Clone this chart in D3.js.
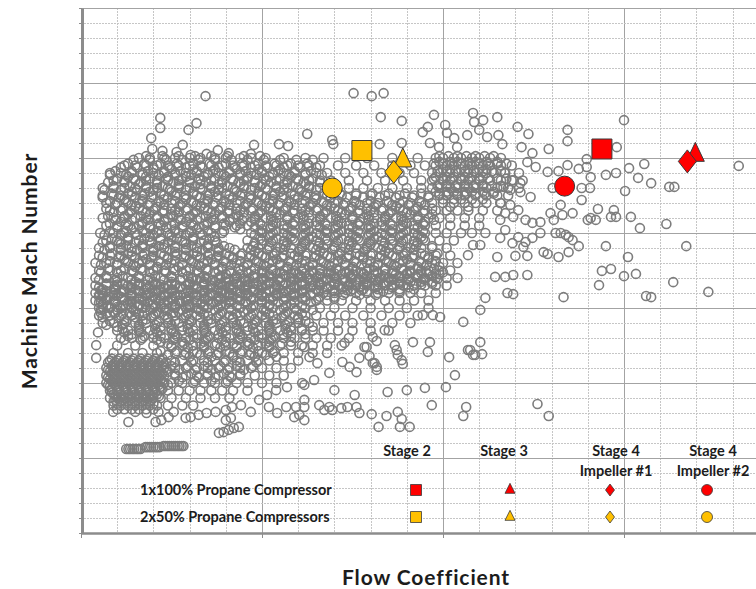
<!DOCTYPE html>
<html>
<head>
<meta charset="utf-8">
<script src="https://cdn.jsdelivr.net/npm/d3@7"></script>
<style>
  html, body { margin: 0; padding: 0; background: #fff; }
  svg { display: block; font-family: Lato, "Open Sans", sans-serif; }
</style>
</head>
<body>
<svg id="chart" width="756" height="589"></svg>
<script>
// Compressor database: flow coefficients are listed in thousandths (52 -> 0.052).
// Each row: [Machine Mach number, flow coefficients of the impellers around that Mach number]
const cloudRows = [
  [1.20,[16,19,23,26,30,33,37,40,44,47,51,56,62,67,73,79,86,93,98,100,103,105,108,110,113,116]],
  [1.19,[99,102,104,107,109,112,115]],
  [1.18,[12,15,18,21,24,27,30,33,36,39,42,45,48,51,54,57,60,63,66,71,76,81,86,91,95,98,101,103,106,108,111,113,116,119]],
  [1.17,[20,25,31,37,43,49,55,100,102,105,107,110,112]],
  [1.16,[8,11,14,17,20,23,26,29,32,35,38,41,44,47,50,53,56,59,62,65,68,73,78,83,88,92,97,99,102,104,107,109,112,114,117,121]],
  [1.15,[13,18,24,29,34,40,46,52,58,98,101,103,106,108,111]],
  [1.14,[9,12,15,18,21,24,27,30,33,36,39,42,45,48,51,54,57,60,63,66,69,74,79,84,89,94,97,100,102,105,107,110,113,116,119,122]],
  [1.13,[16,21,27,33,38,44,50,56,62,99,101,104,106,109,111]],
  [1.12,[6,9,12,15,18,21,24,27,30,33,36,39,42,45,48,51,54,57,60,63,66,70,74,78,82,86,90,94,97,99,102,104,107,109,112,115,118,121]],
  [1.11,[14,19,25,31,37,43,49,55,61,98,101,103,106,108,111,114]],
  [1.10,[6,9,11,14,17,20,23,26,29,32,35,38,41,44,47,50,53,56,59,62,65,68,72,76,80,84,88,92,96,99,101,104,106,109,112,115,118]],
  [1.09,[12,17,23,29,35,41,47,53,59,65,100,103,105,108,111]],
  [1.08,[7,10,13,16,19,22,25,28,31,34,37,40,43,46,49,52,55,58,61,64,67,70,73,76,79,82,85,88,91,94,97,100,103,106,109,112,116]],
  [1.07,[15,21,27,33,39,45,51,57,63,69,75,81,87,93,102,107]],
  [1.06,[8,11,14,17,20,23,26,29,32,35,38,41,44,47,50,53,56,59,62,65,68,71,74,77,80,83,86,89,92,95,98,101,104,107,111,115]],
  [1.05,[13,19,25,31,37,43,49,55,61,67,73,79,85,91,97]],
  [1.04,[6,9,12,15,18,21,24,27,30,33,36,39,42,45,48,51,54,57,60,63,66,69,72,75,78,81,84,87,90,93,96,99,102,106,110]],
  [1.03,[11,17,23,29,35,41,47,53,59,65,71,77,83,89,95]],
  [1.02,[7,10,13,16,19,22,25,28,31,34,37,40,43,46,50,53,56,59,62,65,68,71,74,77,80,83,86,89,92,95,98,102,106,110]],
  [1.01,[14,20,26,32,44,50,56,62,68,74,80,86,92]],
  [1.00,[9,12,15,18,21,24,27,30,33,36,39,47,50,53,56,59,62,65,68,71,74,77,80,83,86,89,92,95,98,101,105,108]],
  [0.99,[13,19,25,31,37,52,58,64,70,76,82,88,94]],
  [0.98,[7,10,13,16,19,22,25,28,31,34,37,46,50,53,56,59,62,65,68,71,74,77,80,83,86,89,92,95,99,103]],
  [0.97,[11,17,23,29,35,50,56,62,68,74,80,86,92]],
  [0.96,[5,8,11,14,17,20,23,26,29,32,35,38,41,46,49,52,55,58,61,64,67,70,73,76,79,82,85,88,91,94,97,101]],
  [0.95,[14,20,26,32,38,48,54,60,66,72,78,84,90]],
  [0.94,[5,8,11,14,17,20,23,26,29,32,35,38,41,44,47,50,53,56,59,62,65,68,71,74,77,80,83,86,89,92,95,98,102]],
  [0.93,[12,18,24,30,36,42,48,54,60,66,72,78,84,90,96]],
  [0.92,[4,7,10,13,16,19,22,25,28,31,34,37,40,43,46,49,52,55,58,61,64,67,70,73,76,79,82,85,88,91,94,97,100,104]],
  [0.91,[15,21,27,33,39,45,51,57,63,69,75,81,87,93,99]],
  [0.90,[5,8,11,14,17,20,23,26,29,32,35,38,41,44,47,50,53,56,59,61,64,66,69,71,74,76,79,81,84,86,89,91,94,96,99,102]],
  [0.89,[40,44,48,52,56,60,63,66,69,72,75,78,81,84,87,90,93,96,99]],
  [0.88,[4,7,10,13,16,19,22,25,28,31,33,35,38,40,43,45,48,50,53,55,58,60,63,65,68,70,73,75,78,80,83,85,88,90,93,95,98,101,104]],
  [0.87,[10,15,20,25,30,34,37,40,43,46,49,52,55,58,61,64,67,70,73,76,79,82,85,88,91,94,97]],
  [0.86,[4,7,10,13,16,19,21,24,26,29,31,34,36,39,41,44,46,49,51,54,56,59,61,64,66,69,71,74,76,79,81,84,86,89,92,95,98,101]],
  [0.85,[6,9,12,15,18,22,25,28,32,35,38,42,45,48,52,55,58,62,65,68,72,75,78,82,85,88,92]],
  [0.84,[4,6,9,11,14,16,19,21,24,26,29,31,34,36,39,41,44,46,49,51,54,56,59,61,64,67,70,73,76,79,82,85,88,91,94,98]],
  [0.83,[5,8,11,14,17,20,23,26,29,32,35,38,41,44,47,50,53,56,59,62,66,70]],
  [0.82,[4,7,9,12,14,17,19,22,24,27,29,32,35,38,41,44,47,50,53,56,59,62,65,68,72,76,80,84,88,92,96]],
  [0.81,[6,10,13,16,20,23,26,30,33,36,40,46,52,58]],
  [0.80,[5,8,11,14,17,20,23,26,29,32,35,38,41,44,47,50,53,56,59,62,66,70,75,80,85,90,96]],
  [0.79,[9,15,21,27,33,39,45,51,57]],
  [0.78,[5,8,11,14,17,20,23,26,29,32,35,38,41,44,47,50,53,56,59,62,65,69,73,78,83,88,93]],
  [0.77,[12,18,24,30,36,42,48,54,60]],
  [0.76,[6,9,12,15,18,21,24,27,30,33,36,39,42,45,48,51,54,57,60,63,67,71,75,80,86,91]],
  [0.75,[10,16,22,28,34,40,46,52,58,64]],
  [0.74,[10,13,16,19,22,25,28,31,34,37,40,43,46,49,52,55,58,61,64,67,71,75,80,85]],
  [0.73,[14,20,26,32,38,44,50,56,62]],
  [0.72,[11,14,17,20,23,26,29,32,35,38,41,44,47,50,53,56,59,62,65,69,74]],
  [0.71,[22,28,34,40,46,52,58]],
  [0.70,[10,15,20,25,28,31,34,37,40,43,46,49,52,55,58,61,64,68,72]],
  [0.68,[9,13,17,21,26,29,32,35,38,41,44,47,50,53,56,60,64,68]],
  [0.67,[30,36,42,48,54]],
  [0.66,[8,10,12,14,16,18,20,22,25,28,31,34,37,40,43,46,49,52,56,60]],
  [0.65,[9,11,13,15,17,19,21,23]],
  [0.64,[7,9,11,13,15,17,19,21,23,26,29,32,35,38,41,44,47,50,54,58]],
  [0.63,[8,10,12,14,16,18,20,22,24]],
  [0.62,[7,9,11,13,15,17,19,21,23,26,29,32,35,38,41,44,48,52,56]],
  [0.61,[8,10,12,14,16,18,20,22]],
  [0.60,[7,9,11,13,15,17,19,21,23,25,28,31,34,37,40,43,46,50,54]],
  [0.59,[8,10,12,14,16,18,20,22]],
  [0.58,[8,10,12,14,16,18,20,22,24,27,30,33,36,39,42,46]],
  [0.57,[9,11,13,15,17,19,21]],
  [0.56,[8,10,12,14,16,18,20,22,25,29,33,37,41]],
  [0.55,[9,11,13,15,17,19]],
  [0.54,[9,11,13,15,17,19,21,24,28,31]],
  [0.53,[10,12,14,16,18,20]]
];

// Further impellers in the crowded parts of the map, between the rows above
const cloudRowsBetween = [
  [1.205,[18,22.5,27,31.5,36,40.5,45,49.5,99,101.5,104,106.5,109,111.5,114]],
  [1.195,[14.5,19,23.5,28,32.5,37,41.5,46,50.5,55,59.5,64]],
  [1.185,[13,17.5,22,26.5,31,35.5,40,44.5,49,53.5,58,62.5,97.5,100,102.5,105,107.5,110,112.5,115,117.5]],
  [1.175,[11,15.5,20,24.5,29,33.5,38,42.5,47,51.5,56,60.5,65]],
  [1.165,[9.5,14,18.5,23,27.5,32,36.5,41,45.5,50,54.5,59,63.5,98.5,101,103.5,106,108.5,111,113.5,116]],
  [1.155,[8,12.5,17,21.5,26,30.5,35,39.5,44,48.5,53,57.5,62,66.5]],
  [1.145,[10,14.5,19,23.5,28,32.5,37,41.5,46,50.5,55,59.5,64,97.5,100,102.5,105,107.5,110,112.5,115,117.5]],
  [1.135,[7.5,12,16.5,21,25.5,30,34.5,39,43.5,48,52.5,57,61.5,66]],
  [1.125,[9,13.5,18,22.5,27,31.5,36,40.5,45,49.5,54,58.5,63,98.5,101,103.5,106,108.5,111,113.5,116]],
  [1.115,[6.5,11,15.5,20,24.5,29,33.5,38,42.5,47,51.5,56,60.5,65]],
  [1.105,[8.5,13,17.5,22,26.5,31,35.5,40,44.5,49,53.5,58,62.5,67,71.5,76,80.5,85,89.5,94,99,101.5,104,106.5,109,111.5,114]],
  [1.095,[6,10.5,15,19.5,24,28.5,33,37.5,42,46.5,51,55.5,60,64.5,69,73.5,78,82.5,87,91.5,96]],
  [1.085,[8,12.5,17,21.5,26,30.5,35,39.5,44,48.5,53,57.5,62,66.5,71,75.5,80,84.5,89,93.5]],
  [1.075,[9.5,14,18.5,23,27.5,32,36.5,41,45.5,50,54.5,59,63.5,68,72.5,77,81.5,86,90.5,95]],
  [1.065,[7,11.5,16,20.5,25,29.5,34,38.5,43,47.5,52,56.5,61,65.5,70,74.5,79,83.5,88,92.5,97]],
  [1.055,[9,13.5,18,22.5,27,31.5,36,40.5,45,49.5,54,58.5,63,67.5,72,76.5,81,85.5,90,94.5]],
  [1.045,[7.5,12,16.5,21,25.5,30,34.5,39,43.5,48,52.5,57,61.5,66,70.5,75,79.5,84,88.5,93]],
  [1.035,[9.5,14,18.5,23,27.5,32,36.5,41,44.5,48,52.5,57,61.5,66,70.5,75,79.5,84,88.5,93,97.5]],
  [1.025,[8,12.5,17,21.5,26,30.5,35,39.5,44,49.5,54,58.5,63,67.5,72,76.5,81,85.5,90,94.5]],
  [1.015,[10,14.5,19,23.5,28,32.5,37,42.5,48,52.5,57,61.5,66,70.5,75,79.5,84,88.5,93]],
  [1.005,[8,12.5,17,21.5,26,30.5,35,39.5,49.5,54,58.5,63,67.5,72,76.5,81,85.5,90,94.5]],
  [0.995,[6.5,11,15.5,20,24.5,29,33.5,48,52.5,57,61.5,66,70.5,75,79.5,84,88.5,93]],
  [0.985,[8.5,13,17.5,22,26.5,31,35.5,49.5,54,58.5,63,67.5,72,76.5,81,85.5,90,94.5]],
  [0.975,[6,10.5,15,19.5,24,28.5,33,37.5,48,52.5,57,61.5,66,70.5,75,79.5,84,88.5,93]],
  [0.965,[8,12.5,17,21.5,26,30.5,35,39.5,47.5,52,56.5,61,65.5,70,74.5,79,83.5,88,92.5,97]],
  [0.955,[6.5,11,15.5,20,24.5,29,33.5,38,42.5,47,51.5,56,60.5,65,69.5,74,78.5,83,87.5,92]],
  [0.945,[8.5,13,17.5,22,26.5,31,35.5,40,44.5,49,53.5,58,62.5,67,71.5,76,80.5,85,89.5,94,98.5]],
  [0.935,[6,10.5,15,19.5,24,28.5,33,37.5,42,46.5,51,55.5,60,64.5,69,73.5,78,82.5,87,91.5,96]],
  [0.925,[8,12.5,17,21.5,26,30.5,35,39.5,44,48.5,53,57.5,62,66.5,71,75.5,80,84.5,89,93.5,98]],
  [0.915,[5.5,10,14.5,19,23.5,28,32.5,37,41.5,46,50.5,55,59.5,64,68.5,73,77.5,82,86.5,91,95.5]],
  [0.905,[7.5,12,16.5,21,25.5,30,34.5,39,43.5,48,52.5,57,61.5,66,70.5,75,79.5,84,88.5,93,97.5]],
  [0.8925,[50,54,58,62,66,70,74,78,82,86,90,94,98]],
  [0.895,[5.5,10,14.5,19,23.5,28,32.5,37,41.5,46,50.5,55,59.5,64,68.5,73,77.5,82,86.5,91,95.5,100]],
  [0.885,[7,11.5,16,20.5,25,29.5,34,38.5,43,47.5,52,56.5,61,65.5,70,74.5,79,83.5,88,92.5,97]],
  [0.8775,[30.5,34.5,38.5,42.5,46.5,50.5,54.5,58.5,62.5,66.5,70.5,74.5,78.5,82.5,86.5,90.5,94.5,98.5]],
  [0.875,[5,9.5,14,18.5,23,27.5,32,36.5,41,45.5,50,54.5,59,63.5,68,72.5,77,81.5,86,90.5,95]],
  [0.865,[7,11.5,16,20.5,25,29.5,34,38.5,43,47.5,52,56.5,61,65.5,70,74.5,79,83.5,88,92.5,97]],
  [0.8625,[10,14,18,22,26,30,34,38,42,46,50,54,58,62,66,70,74,78,82,86,90,94]],
  [0.855,[5,9.5,14,18.5,23,27.5,32,36.5,41,45.5,50,54.5,59,63.5,68,72.5,77,81.5,86,90.5]],
  [0.8475,[5.5,9.5,13.5,17.5,21.5,25.5,29.5,33.5,37.5,41.5,45.5,49.5,53.5,57.5,61.5,65.5,69.5,73.5,77.5]],
  [0.845,[7,11.5,16,20.5,25,29.5,34,38.5,43,47.5,52,56.5,61,65.5,70,74.5,79,83.5,88]],
  [0.835,[5,9.5,14,18.5,23,27.5,32,36.5,41,45.5,50,54.5,59,63.5,68,72.5,77,81.5]],
  [0.8325,[6,10,14,18,22,26,30,34,38,42,46,50,54,58]],
  [0.825,[7,11.5,16,20.5,25,29.5,34,38.5,43,47.5,52,56.5,61,65.5,70]],
  [0.8175,[5.5,9.5,13.5,17.5,21.5,25.5,29.5,33.5,37.5,41.5,45.5]],
  [0.815,[5,9.5,14,18.5,23,27.5,32,36.5,41,45.5,50,54.5,59,63.5]],
  [0.805,[7,11.5,16,20.5,25,29.5,34,38.5,43,47.5,52,56.5,61]],
  [0.8025,[6,10,14,18,22,26,30,34]],
  [0.795,[5.5,10,14.5,19,23.5,28,32.5,37,41.5,46,50.5,55,59.5,64]],
  [0.7875,[5.5,9.5,13.5,17.5,21.5,25.5,29.5]],
  [0.785,[7,11.5,16,20.5,25,29.5,34,38.5,43,47.5,52,56.5,61]],
  [0.775,[6,10.5,15,19.5,24,28.5,33,37.5,42,46.5,51,55.5,60]],
  [0.765,[8,12.5,17,21.5,26,30.5,35,39.5,44,48.5,53,57.5,62]],
  [0.755,[7,11.5,16,20.5,25,29.5,34,38.5,43,47.5,52,56.5]],
  [0.745,[11.5,16,20.5,25,29.5,34,38.5,43,47.5,52,56.5,61]],
  [0.735,[12,16.5,21,25.5,30,34.5,39,43.5,48,52.5,57]],
  [0.725,[13,17.5,22,26.5,31,35.5,40,44.5,49,53.5,58]],
  [0.715,[12,16.5,21,25.5,30,34.5,39,43.5,48,52.5]],
  [0.705,[24,28.5,33,37.5,42,46.5,51,55.5]],
  [0.695,[25,29.5,34,38.5,43,47.5,52]],
  [0.685,[22,26.5,31,35.5,40,44.5,49,53.5]],
  [0.675,[24,28.5,33,37.5,42,46.5,51]],
  [0.665,[8.5,10.5,12.5,14.5,16.5,18.5,20.5,22.5]],
  [0.655,[7.5,9.5,11.5,13.5,15.5,17.5,19.5,21.5,23.5,26,30.5,35,39.5,44,48.5]],
  [0.645,[8.5,10.5,12.5,14.5,16.5,18.5,20.5,22.5,25,29.5,34,38.5,43,47.5]],
  [0.635,[7.5,9.5,11.5,13.5,15.5,17.5,19.5,21.5,23.5,27,31.5,36,40.5,45]],
  [0.625,[8.5,10.5,12.5,14.5,16.5,18.5,20.5,22.5,26,30.5,35,39.5,44]],
  [0.615,[7.5,9.5,11.5,13.5,15.5,17.5,19.5,21.5,28,32.5,37,41.5]],
  [0.605,[8.5,10.5,12.5,14.5,16.5,18.5,20.5,22.5,27,31.5,36,40.5]],
  [0.595,[7.5,9.5,11.5,13.5,15.5,17.5,19.5,21.5,24]],
  [0.585,[8.5,10.5,12.5,14.5,16.5,18.5,20.5,22.5]],
  [0.575,[8.5,10.5,12.5,14.5,16.5,18.5,20.5]],
  [0.565,[9.5,11.5,13.5,15.5,17.5,19.5,21.5]],
  [0.555,[9.5,11.5,13.5,15.5,17.5,19.5]],
  [0.545,[10,12,14,16,18,20]]
];

// Tightly packed impeller families near the bottom of the range
const chainRows = [
  [0.424,[12.5,13.1,13.6,14.2,14.7,15.3,15.8,16.4]],
  [0.429,[17.8,18.3,18.9,19.4,20,20.6,21.1,21.7]],
  [0.432,[22.8,23.3,23.9,24.4,25,25.6,26.1,26.7,27.2,27.8,28.3]]
];

// Individual impellers: [flow coefficient x1000, Machine Mach number]
const cloudPoints = [
  [34.4,1.365],[75.3,1.373],[80.3,1.365],[83.6,1.373],[21.9,1.307],[21.9,1.28],[31.9,1.293],[29.7,1.275],
  [19.4,1.253],[19.7,1.224],[22.5,1.219],[28.1,1.235],[26.4,1.216],[30.3,1.208],[34.7,1.211],[37.8,1.221],
  [40.8,1.213],[47.8,1.235],[46.9,1.211],[54.7,1.237],[57.2,1.232],[62.5,1.264],[69.4,1.248],[69.7,1.237],
  [82.8,1.309],[88.6,1.299],[82.5,1.237],[88.6,1.24],[94.4,1.269],[95.8,1.283],[97.5,1.315],[100.6,1.288],
  [96.4,1.24],[98.9,1.229],[101.1,1.267],[103.1,1.253],[103.9,1.229],[106.7,1.261],[108.3,1.32],[108.6,1.296],
  [110,1.275],[111.1,1.301],[112.2,1.256],[115,1.309],[115.3,1.261],[116.4,1.237],[120.6,1.283],[123.6,1.264],
  [121.7,1.229],[129.2,1.224],[134.4,1.275],[134.4,1.245],[148,1.229],[150,1.301],[124.7,1.213],[123.3,1.189],
  [125.6,1.176],[128.9,1.163],[131.9,1.165],[134.4,1.181],[137.5,1.171],[139.7,1.176],[139.7,1.197],[140.8,1.149],
  [145,1.155],[147.8,1.16],[151.4,1.173],[155.6,1.184],[153.9,1.147],[157.5,1.133],[162.5,1.123],[163.9,1.123],
  [150.3,1.112],[181.7,1.179],[117.2,1.16],[119.4,1.141],[121.4,1.133],[116.7,1.123],[118.6,1.115],[121.4,1.109],
  [124.2,1.096],[130.3,1.12],[138.3,1.12],[140.6,1.12],[138.3,1.088],[142.8,1.064],[140.8,1.04],[142.2,1.035],
  [140,1.035],[147.2,1.061],[146.4,1.043],[147.8,1.043],[151.9,1.043],[154.4,1.013],[161.7,1.024],[167.2,0.965],
  [145,0.965],[151.1,0.936],[143.9,0.899],[146.4,0.904],[150,0.885],[153.3,0.891],[143.1,0.861],[163.6,0.869],
  [173.3,0.843],[156.1,0.832],[157.5,0.829],[133.3,0.829],[115.8,1.08],[118.6,1.075],[120.8,1.061],[117.2,1.053],
  [119.4,1.043],[122.8,1.035],[115.8,1.035],[124.7,1.027],[126.9,1.029],[129.7,1.053],[132.5,1.075],[133,1.048],
  [135.8,1.053],[130.6,1.035],[131.1,1.0],[132.5,1.0],[133.9,0.995],[134.7,0.989],[135.8,0.981],[137.5,0.965],
  [120.8,0.989],[122.8,0.976],[124.7,0.987],[117.2,1.008],[115.8,0.987],[119.2,0.973],[122.2,0.963],[127.8,0.949],
  [128.9,0.944],[131.9,0.936],[134.7,0.949],[120,0.939],[123.3,0.939],[117.2,0.883],[119.4,0.888],[123.3,0.888],
  [117.8,0.84],[119.4,0.837],[111.7,1.0],[108.3,0.968],[110.3,0.968],[106.9,0.941],[115,0.936],[126.9,1.0],
  [114.4,0.883],[111.7,0.827],[110.3,0.795],[105.6,0.763],[110.3,0.709],[108.3,0.675],[110.8,0.677],[106.9,0.688],
  [103.3,0.621],[100.8,0.589],[95,0.587],[90,0.581],[84.7,0.576],[95.8,0.683],[96.4,0.709],[91.7,0.709],
  [99.2,0.776],[94.4,0.781],[97.2,0.781],[83.9,0.741],[107.5,0.688],[108.9,0.675],[101.7,0.669],[96.9,0.541],
  [106.4,0.536],[105.6,0.512],[126.1,0.544],[129.2,0.512],[86.7,0.701],[87.2,0.688],[87.5,0.675],[88.6,0.661],
  [88.9,0.651],[80.6,0.723],[81.7,0.712],[78.3,0.696],[76.9,0.667],[79.7,0.672],[80.6,0.653],[81.7,0.643],
  [74.2,0.643],[76.1,0.629],[72.2,0.656],[72.8,0.707],[73.6,0.536],[71.9,0.533],[76.9,0.52],[80.3,0.517],
  [84.4,0.512],[87.5,0.523],[88.6,0.504],[88.1,0.483],[90.8,0.483],[82.2,0.483],[61.7,0.696],[63.1,0.669],
  [65.3,0.653],[68.6,0.627],[78.9,0.696],[81.1,0.653],[81.7,0.635],[61.1,0.6],[64.4,0.608],[70,0.581],
  [75.6,0.568],[61.7,0.555],[65.8,0.541],[4.7,0.735],[4.2,0.701],[4.2,0.667],[5.3,1.0],
  [8.9,0.523],[13.1,0.496],[15,0.523],[18.1,0.52],[21.4,0.523],[20.6,0.496],[22.2,0.501],[24.2,0.509],
  [25.6,0.523],[28.9,0.507],[30.3,0.509],[32.5,0.515],[34.7,0.52],[37.2,0.523],[40,0.528],[41.7,0.536],
  [44.2,0.541],[46.9,0.523],[49.2,0.555],[51.4,0.568],[53.9,0.581],[56.9,0.589],[61.7,0.595],[51.9,0.536],
  [54.2,0.52],[56.7,0.536],[59.4,0.536],[58.9,0.509],[60.3,0.515],[61.7,0.501],[61.7,0.536],[67.2,0.528],
  [68.6,0.536],[69.4,0.528],[76.1,0.536],[38.1,0.467],[39.4,0.469],[40.8,0.475],[42.2,0.48],[43.6,0.483],
  [40,0.501],[41.4,0.507]
];

// Propane compressor stages
const stageNames = [["Stage 2"], ["Stage 3"], ["Stage 4", "Impeller #1"], ["Stage 4", "Impeller #2"]];
const stageShapes = ["square", "triangle", "diamond", "circle"];
const configNames = ["1x100% Propane Compressor", "2x50% Propane Compressors"];
const configColors = ["#ff0000", "#ffc000"];
const flow1x100 = [0.1439, 0.1697, 0.1675, 0.1336];
const mach1x100 = [1.224, 1.208, 1.191, 1.125];
const flow2x50 = [0.0776, 0.0889, 0.0864, 0.0694];
const mach2x50 = [1.220, 1.193, 1.163, 1.120];

const svg = d3.select("#chart");
const x = d3.scaleLinear().domain([0, 0.2]).range([81, 805]);
const y = d3.scaleLinear().domain([0.2, 1.6]).range([533, 8]);

// Gridlines: minor every 0.01 flow / 0.04 Mach, major every fifth line
const flowGrid = d3.range(0, 21).map(i => +(i * 0.01).toFixed(2));
const machGrid = d3.range(0, 36).map(i => +(0.2 + i * 0.04).toFixed(2));

const grid = svg.append("g");
grid.selectAll("line.v").data(flowGrid).join("line")
  .attr("x1", d => Math.round(x(d)) + 0.5).attr("x2", d => Math.round(x(d)) + 0.5)
  .attr("y1", y(1.6)).attr("y2", y(0.2))
  .attr("stroke", (d, i) => i % 5 === 0 ? "#a3a3a3" : "#c6c6c6")
  .attr("stroke-dasharray", (d, i) => i % 5 === 0 ? null : "2,1");
grid.selectAll("line.h").data(machGrid).join("line")
  .attr("y1", d => Math.round(y(d)) + 0.5).attr("y2", d => Math.round(y(d)) + 0.5)
  .attr("x1", x(0)).attr("x2", x(0.2))
  .attr("stroke", (d, i) => i % 5 === 0 ? "#a3a3a3" : "#c6c6c6")
  .attr("stroke-dasharray", (d, i) => i % 5 === 0 ? null : "2,1");

// Build the impeller table
const impellers = [];
cloudRows.concat(cloudRowsBetween, chainRows)
  .forEach(([m, flows]) => flows.forEach(f => impellers.push([f / 1000, m])));
cloudPoints.forEach(([f, m]) => impellers.push([f / 1000, m]));

svg.append("g").selectAll("circle").data(impellers).join("circle")
  .attr("cx", d => x(d[0])).attr("cy", d => y(d[1]))
  .attr("r", 4.5)
  .attr("fill", "none")
  .attr("stroke", "#7d7d7d")
  .attr("stroke-width", 1.6);

// Axes
const gy = svg.append("g").attr("transform", "translate(82,0)")
  .call(d3.axisLeft(y).tickValues(machGrid).tickSize(3).tickSizeOuter(0).tickFormat(""));
gy.select(".domain").attr("stroke", "#8c8c8c").attr("stroke-width", 3);
gy.selectAll(".tick line").attr("stroke", "#8c8c8c");

const gx = svg.append("g").attr("transform", "translate(0,533)")
  .call(d3.axisBottom(x).tickValues(flowGrid.filter((d, i) => i % 5 === 0)).tickSize(5).tickSizeOuter(0).tickFormat(""));
gx.select(".domain").attr("stroke", "#8c8c8c").attr("stroke-width", 2.5);
gx.selectAll(".tick line").attr("stroke", "#8c8c8c");

// Marker shapes
function shapePath(shape, w, h) {
  if (shape === "square") return `M${-w / 2},${-h / 2}h${w}v${h}h${-w}Z`;
  if (shape === "triangle") return `M0,${-2 * h / 3}L${w / 2},${h / 3}L${-w / 2},${h / 3}Z`;
  if (shape === "diamond") return `M0,${-h / 2}L${w / 2},0L0,${h / 2}L${-w / 2},0Z`;
  const r = w / 2;
  return `M${r},0A${r},${r} 0 1,1 ${-r},0A${r},${r} 0 1,1 ${r},0Z`;
}
const bigSize = { square: [20, 20], triangle: [18, 19], diamond: [18, 23], circle: [20, 20] };
const smallSize = { square: [11, 11], triangle: [10, 10], diamond: [9, 12], circle: [11, 11] };

// Legend inside the plot area
const legend = { colX: [416, 510, 610, 707], headX: [407, 504, 616, 713], headY: [456, 476], rowY: [490, 517], nameX: 140 };
const textColor = "#1c1c1c";

stageNames.forEach((lines, i) => {
  lines.forEach((t, j) => {
    svg.append("text").attr("x", legend.headX[i]).attr("y", legend.headY[j])
      .attr("text-anchor", "middle").attr("font-size", 14.5).attr("font-weight", 700)
      .attr("fill", textColor).text(t);
  });
});
configNames.forEach((t, r) => {
  svg.append("text").attr("x", legend.nameX).attr("y", legend.rowY[r] + 4.5)
    .attr("font-size", 14.5).attr("font-weight", 700).attr("fill", textColor).text(t);
  stageShapes.forEach((s, i) => {
    const [w, h] = smallSize[s];
    svg.append("path").attr("d", shapePath(s, w, h))
      .attr("transform", `translate(${legend.colX[i]},${legend.rowY[r]})`)
      .attr("fill", configColors[r]).attr("stroke", "#3a3a3a").attr("stroke-width", 0.8);
  });
});

// Highlighted compressor stages
const series = [
  { color: configColors[1], flow: flow2x50, mach: mach2x50 },
  { color: configColors[0], flow: flow1x100, mach: mach1x100 }
];
series.forEach(sr => {
  stageShapes.forEach((s, i) => {
    const [w, h] = bigSize[s];
    svg.append("path").attr("d", shapePath(s, w, h))
      .attr("transform", `translate(${x(sr.flow[i])},${y(sr.mach[i])})`)
      .attr("fill", sr.color).attr("stroke", "#3a3a3a").attr("stroke-width", 1);
  });
});

// Axis titles
svg.append("text").attr("x", 426).attr("y", 585).attr("text-anchor", "middle")
  .attr("font-size", 21).attr("font-weight", 700).attr("letter-spacing", 0.9)
  .attr("fill", textColor).text("Flow Coefficient");
svg.append("text").attr("transform", "translate(37,271) rotate(-90)").attr("text-anchor", "middle")
  .attr("font-size", 21).attr("font-weight", 700).attr("letter-spacing", 0.9)
  .attr("fill", textColor).text("Machine Mach Number");
</script>
</body>
</html>
